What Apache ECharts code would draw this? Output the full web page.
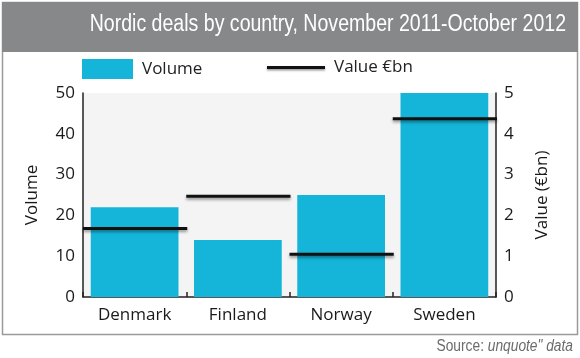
<!DOCTYPE html>
<html><head><meta charset="utf-8">
<script src="https://cdn.jsdelivr.net/npm/echarts@6/dist/echarts.min.js"></script>
<style>html,body{margin:0;padding:0;background:#fff}#c{width:580px;height:358px}</style>
</head><body><div id="c"></div>
<script>
const categories = ['Denmark', 'Finland', 'Norway', 'Sweden'];
const volume = [22, 14, 25, 50];
const valueBn = [1.68, 2.47, 1.05, 4.37];
const leftTicks = [0, 10, 20, 30, 40, 50];
const rightTicks = [0, 1, 2, 3, 4, 5];
const titleText = 'Nordic deals by country, November 2011-October 2012';

const FONT = '"Open Sans", "Noto Sans", sans-serif';
const COND = '"Liberation Sans", Arial, sans-serif';
const chart = echarts.init(document.getElementById('c'), null, {renderer: 'canvas'});
chart.setOption({
  animation: false,
  backgroundColor: '#fff',
  graphic: [
    {type: 'rect', shape: {x: 2.5, y: 2.5, width: 575, height: 332}, style: {fill: '#fff', stroke: '#9a9a9a', lineWidth: 1.5}, z: -10},
    {type: 'rect', shape: {x: 2, y: 2, width: 576, height: 50}, style: {fill: '#87888a'}, z: -9},
    {type: 'text', x: 566, y: 25, scaleX: 0.85, originX: 0, style: {text: titleText, fill: '#fff', font: '23px ' + COND, textAlign: 'right', textVerticalAlign: 'middle'}},
    {type: 'text', x: 573, y: 347, scaleX: 0.86, originX: 0, style: {rich: {a: {fill: '#6b6b6b', font: '16px ' + COND}, b: {fill: '#6b6b6b', font: 'italic 16px ' + COND}},
      text: '{a|Source: }{b|unquote" data}', textAlign: 'right', textVerticalAlign: 'middle'}}
  ],
  legend: [
    {data: ['Volume'], left: 77, top: 54, itemWidth: 51, itemHeight: 20, icon: 'rect', itemGap: 10,
     textStyle: {fontFamily: FONT, fontSize: 17, color: '#222', padding: [0, 0, 0, 4]}},
    {data: ['Value €bn'], left: 262, top: 54, itemWidth: 58, itemHeight: 20,
     icon: 'path://M0,9 L58,9 L58,12 L0,12 Z',
     itemStyle: {color: '#111', shadowColor: 'rgba(0,0,0,0.4)', shadowBlur: 2, shadowOffsetY: 1.5},
     textStyle: {fontFamily: FONT, fontSize: 17, color: '#222', padding: [0, 0, 0, 4]}}
  ],
  grid: {left: 83, right: 84, top: 93, bottom: 61, show: true, backgroundColor: '#f4f4f4', borderWidth: 0},
  xAxis: {
    type: 'category', data: categories,
    axisLine: {lineStyle: {color: '#222', width: 1.5}},
    axisTick: {show: true, length: 5, inside: true, lineStyle: {color: '#222', width: 1.5}},
    axisLabel: {fontFamily: FONT, fontSize: 17, color: '#1a1a1a', margin: 10}
  },
  yAxis: [
    {type: 'value', min: 0, max: 50, interval: 10, name: 'Volume', nameLocation: 'middle', nameGap: 42,
     nameTextStyle: {fontFamily: FONT, fontSize: 17, color: '#1a1a1a'},
     axisLine: {show: true, lineStyle: {color: '#222', width: 1.5}}, axisTick: {show: false},
     splitLine: {show: false}, axisLabel: {fontFamily: FONT, fontSize: 17, color: '#1a1a1a', margin: 8}},
    {type: 'value', min: 0, max: 5, interval: 1, name: 'Value (€bn)', nameLocation: 'middle', nameGap: 38, nameRotate: 90,
     nameTextStyle: {fontFamily: FONT, fontSize: 17, color: '#1a1a1a'},
     axisLine: {show: true, lineStyle: {color: '#222', width: 1.5}}, axisTick: {show: false},
     splitLine: {show: false}, axisLabel: {fontFamily: FONT, fontSize: 17, color: '#1a1a1a', margin: 8}}
  ],
  series: [
    {name: 'Volume', type: 'bar', data: volume, barCategoryGap: '15%', itemStyle: {color: '#14b5d9'}, z: 2},
    {name: 'Value €bn', type: 'custom', yAxisIndex: 1, data: valueBn.map((v, i) => [i, v]),
     itemStyle: {color: '#111'}, z: 5,
     renderItem: function (params, api) {
       const p = api.coord([api.value(0), api.value(1)]);
       const bw = api.size([1, 0])[0];
       return {type: 'line', shape: {x1: p[0] - bw / 2, y1: p[1], x2: p[0] + bw / 2 + 1, y2: p[1]},
         style: {stroke: '#111', lineWidth: 3, shadowColor: 'rgba(0,0,0,0.4)', shadowBlur: 3, shadowOffsetY: 2}};
     },
     encode: {x: 0, y: 1}}
  ]
});
</script></body></html>
